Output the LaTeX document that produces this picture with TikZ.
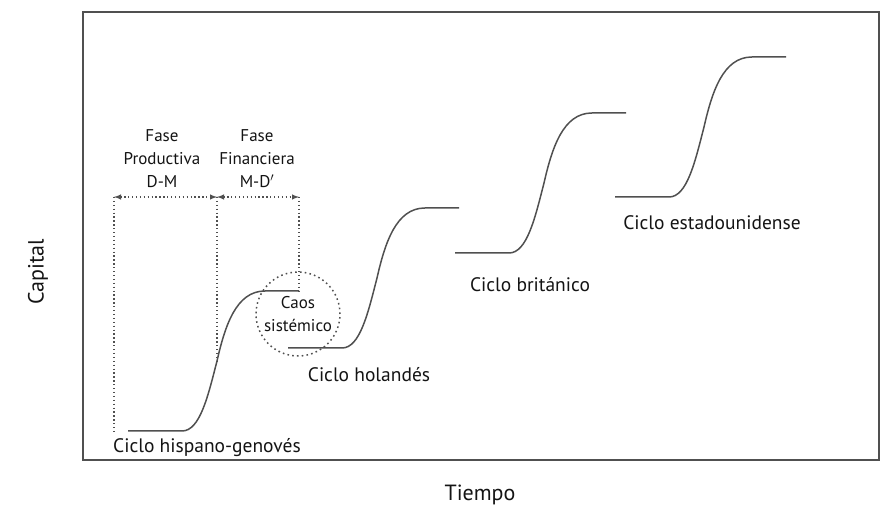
\documentclass[tikz,border=0pt]{standalone}
\usepackage{fontspec}
\setmainfont{PT Sans}
\usetikzlibrary{arrows, positioning}
\definecolor{linea}{RGB}{80,80,80}
\definecolor{texto}{RGB}{20,20,20}
\newcommand\ciclo[1]{\draw[curva] (#1) -- ++(54,0) .. controls +(18,0) and +(-9,35) .. ++(35,-70) coordinate (#1-mid) .. controls +(8,-35) and +(-29,0) .. ++(48,-70) -- ++(34,0) coordinate (#1-fin);}

\begin{document}
\begin{tikzpicture} [x=1pt, y=-1pt,
  marco/.style = {draw=linea, line width=2pt},
  curva/.style = {draw=linea, line width=1.5pt},
  punteo/.style = {draw=linea, line width=1.4pt, dash pattern=on 1.3pt off 2.6pt},
  etiq/.style = {text=texto, font=\fontsize{19.5}{23}\selectfont, inner sep=0pt},
  fase/.style = {text=texto, font=\fontsize{17}{23}\selectfont, align=center, inner sep=0pt}]
\useasboundingbox (0,0) rectangle (884,510);
\draw[marco] (83,12) rectangle (879,460);
% ciclos
\coordinate (c1) at (128,431);
\coordinate (c2) at (288,348);
\coordinate (c3) at (455,253);
\coordinate (c4) at (615,197);
\ciclo{c1}
\ciclo{c2}
\ciclo{c3}
\ciclo{c4}
\node[etiq] (hisp) at (207,448) {Ciclo hispano-genovés};
\node[etiq] (hol) at (369,375) {Ciclo holandés};
\node[etiq] (brit) at (530,285) {Ciclo británico};
\node[etiq] (usa) at (712,223) {Ciclo estadounidense};
% fases
\coordinate (pL) at (114,197);
\coordinate (pM) at (217,197);
\coordinate (pR) at (299,197);
\coordinate (bL) at (114,432);
\draw[punteo] (pL) -- (bL);
\draw[punteo] (pM) -- (c1-mid);
\draw[punteo] (pR) -- (c1-fin);
\draw[punteo, latex-latex] (pL) -- (pM);
\draw[punteo, latex-latex] (pM) -- (pR);
\node[fase] (prod) at (162,159) {Fase\\Productiva\\D-M};
\node[fase] (fin) at (257,159) {Fase\\Financiera\\M-D$'$};
\node[fase, circle, draw=linea, line width=1.5pt, dash pattern=on 1.6pt off 3.2pt, minimum size=84pt, text=texto] (caos) at (298,314) {Caos\\sistémico};
% ejes
\node[etiq, font=\fontsize{22}{26}\selectfont] (tiempo) at (480,495) {Tiempo};
\node[etiq, font=\fontsize{22}{26}\selectfont, rotate=90] (capital) at (38,272) {Capital};
\end{tikzpicture}
\end{document}
